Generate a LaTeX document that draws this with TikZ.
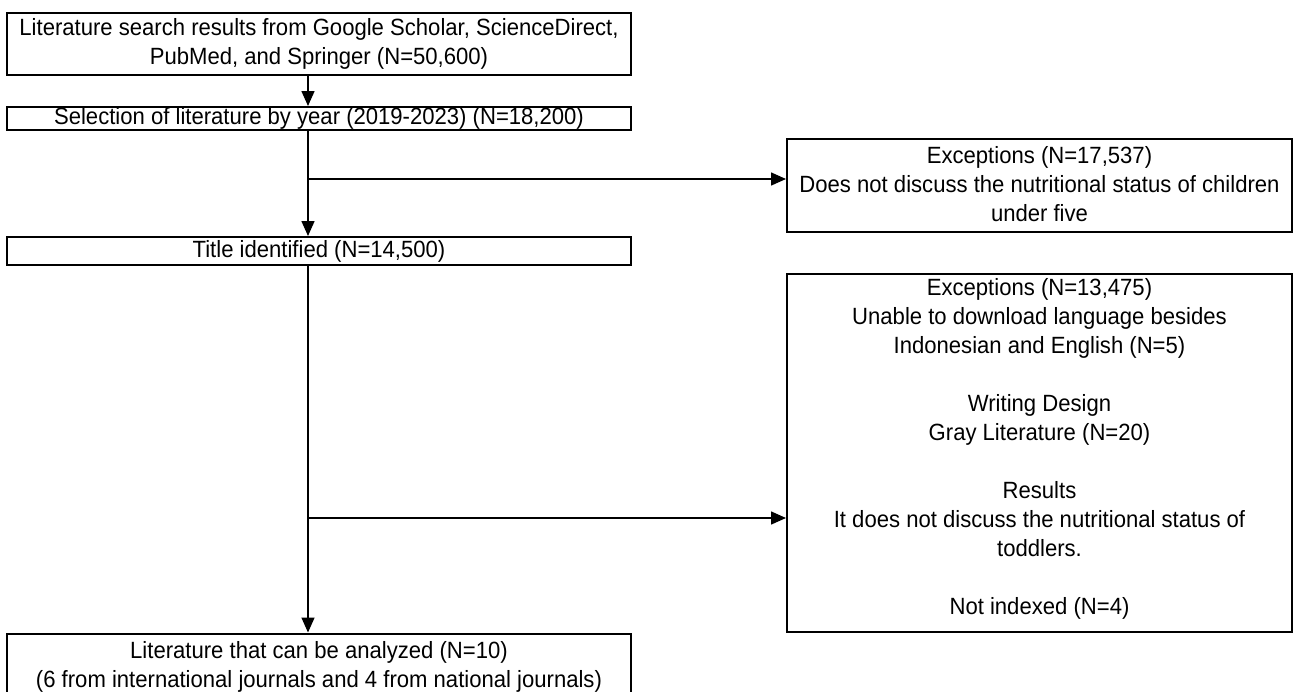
\documentclass[tikz,border=0pt]{standalone}
\usepackage{fontspec}
\setmainfont[FakeStretch = 0.94]{Liberation Sans}
\usetikzlibrary{arrows.meta, positioning}

\tikzset{
    casella/.style = {draw, line width = 2pt, align = center, inner sep = 0pt, font = \fontsize{23.5}{29}\selectfont},
    freccia/.style = {line width = 1.5pt, -{Triangle[width = 13pt, length = 15pt]}},
    linea/.style = {line width = 1.5pt}
}

\begin{document}
\begin{tikzpicture}[x = 1pt, y = -1pt]
    \useasboundingbox (0,0) rectangle (1293,691);
    % Colonna sinistra
    \node[casella, minimum width = 624pt, minimum height = 62pt] (ricerca) at (319,44){Literature search results from Google Scholar, ScienceDirect,\\PubMed, and Springer (N=50,600)};
    \node[casella, minimum width = 624pt, minimum height = 23pt] (anno) at (319,118.5){Selection of literature by year (2019-2023) (N=18,200)};
    \node[casella, minimum width = 624pt, minimum height = 28pt] (titolo) at (319,251){Title identified (N=14,500)};
    \node[casella, minimum width = 624pt, minimum height = 67pt] (analisi) at (319,667){Literature that can be analyzed (N=10)\\(6 from international journals and 4 from national journals)};
    % Colonna destra: esclusioni
    \node[casella, minimum width = 505pt, minimum height = 93pt, text depth = 3pt] (esclusi) at (1039.5,185.5){Exceptions (N=17,537)\\Does not discuss the nutritional status of children\\under five};
    \node[casella, minimum width = 505pt, minimum height = 358pt, text depth = 13pt] (esclusiDue) at (1039.5,453){Exceptions (N=13,475)\\Unable to download language besides\\Indonesian and English (N=5)\\[29pt]Writing Design\\Gray Literature (N=20)\\[29pt]Results\\It does not discuss the nutritional status of\\toddlers.\\[29pt]Not indexed (N=4)};
    % Asse verticale e diramazioni
    \coordinate (asse) at (308,0);
    \coordinate (ramoUno) at (308,179);
    \coordinate (ramoDue) at (308,518);
    \draw[freccia] (ricerca.south -| asse) -- (anno.north -| asse);
    \draw[freccia] (anno.south -| asse) -- (titolo.north -| asse);
    \draw[freccia] (titolo.south -| asse) -- (analisi.north -| asse);
    \draw[freccia] (ramoUno) -- (ramoUno -| esclusi.west);
    \draw[freccia] (ramoDue) -- (ramoDue -| esclusiDue.west);
\end{tikzpicture}
\end{document}
